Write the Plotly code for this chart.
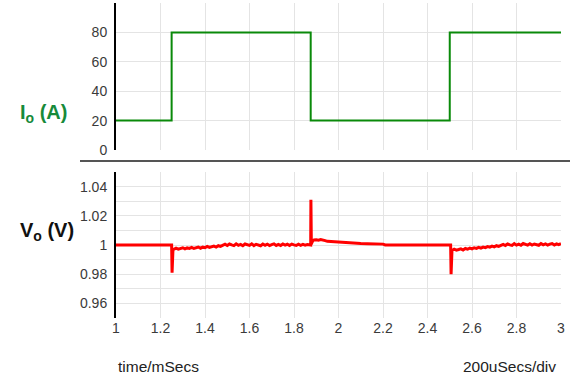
import plotly.graph_objects as go

# ---- data ----
io_t = [1.0, 1.25, 1.875, 2.5, 3.0]
io_a = [20, 80, 20, 80, 80]

vo_t = [1.0, 1.25, 1.252, 1.254, 1.256,
        1.26, 1.27, 1.28, 1.29, 1.30, 1.31, 1.32, 1.33, 1.34, 1.35,
        1.36, 1.37, 1.38, 1.39, 1.40, 1.41, 1.42, 1.43, 1.44, 1.45,
        1.46, 1.47, 1.48, 1.49, 1.50, 1.51, 1.52, 1.53, 1.54, 1.55,
        1.56, 1.57, 1.58, 1.59, 1.60, 1.61, 1.62, 1.63, 1.64, 1.65,
        1.66, 1.67, 1.68, 1.69, 1.70, 1.71, 1.72, 1.73, 1.74, 1.75,
        1.76, 1.77, 1.78, 1.79, 1.80, 1.81, 1.82, 1.83, 1.84, 1.85,
        1.86, 1.87,
        1.875, 1.876, 1.878, 1.880, 1.885, 1.89, 1.90, 1.91, 1.92, 1.93,
        1.94, 1.95, 1.96, 1.98, 2.00, 2.02, 2.05, 2.08, 2.10, 2.13,
        2.16, 2.19, 2.20, 2.21,
        2.50, 2.504, 2.506, 2.508,
        2.51, 2.52, 2.53, 2.54, 2.55, 2.56, 2.57, 2.58, 2.59, 2.60,
        2.61, 2.62, 2.63, 2.64, 2.65, 2.66, 2.67, 2.68, 2.69, 2.70,
        2.71, 2.72, 2.73, 2.74, 2.75, 2.76, 2.77, 2.78, 2.79, 2.80,
        2.81, 2.82, 2.83, 2.84, 2.85, 2.86, 2.87, 2.88, 2.89, 2.90,
        2.91, 2.92, 2.93, 2.94, 2.95, 2.96, 2.97, 2.98, 2.99, 3.0]

vo_v = [1.0, 1.0, 0.9810, 0.9960, 0.9968,
        0.9970, 0.9979, 0.9972, 0.9976, 0.9981, 0.9973, 0.9980, 0.9977, 0.9984, 0.9976,
        0.9983, 0.9986, 0.9978, 0.9985, 0.9982, 0.9990, 0.9983, 0.9988, 0.9992, 0.9986,
        0.9995, 0.9990, 0.9998, 1.0005, 0.9996, 1.0007, 1.0001, 0.9996, 1.0008, 0.9998,
        1.0004, 0.9995, 1.0007, 1.0002, 0.9997, 1.0008, 0.9996, 1.0005, 1.0000, 0.9995,
        1.0007, 0.9998, 1.0006, 0.9996, 1.0003, 1.0008, 0.9997, 1.0004, 0.9996, 1.0007,
        0.9999, 1.0005, 0.9996, 1.0006, 1.0001, 0.9997, 1.0006, 0.9998, 1.0004, 0.9999,
        1.0003, 1.0000,
        1.0, 1.0310, 1.0005, 1.0015, 1.0030, 1.0034, 1.0036, 1.0033, 1.0037, 1.0031,
        1.0030, 1.0025, 1.0024, 1.0020, 1.0018, 1.0014, 1.0013, 1.0011, 1.0010, 1.0009,
        1.0008, 1.0007, 1.0006, 1.0,
        1.0, 1.0, 0.9800, 0.9955,
        0.9962, 0.9971, 0.9965, 0.9969, 0.9974, 0.9966, 0.9976, 0.9971, 0.9979, 0.9973,
        0.9981, 0.9977, 0.9984, 0.9979, 0.9986, 0.9982, 0.9989, 0.9985, 0.9992, 0.9987,
        0.9995, 0.9990, 0.9998, 1.0004, 0.9996, 1.0007, 1.0001, 0.9997, 1.0009, 0.9999,
        1.0006, 0.9998, 1.0010, 1.0003, 0.9999, 1.0009, 1.0000, 1.0007, 1.0002, 0.9998,
        1.0010, 1.0001, 1.0008, 0.9999, 1.0006, 1.0010, 1.0000, 1.0008, 1.0002, 1.0009]

x_tickvals = [1, 1.2, 1.4, 1.6, 1.8, 2, 2.2, 2.4, 2.6, 2.8, 3]
io_tickvals = [0, 20, 40, 60, 80]
vo_tickvals = [0.96, 0.98, 1.0, 1.02, 1.04]
vo_ticktext = ["0.96", "0.98", "1", "1.02", "1.04"]

# ---- figure ----
W, H = 570, 377
L, R, T, B = 116, 9, 3, 59
ph = H - T - B

def py(pix):
    return (H - B - pix) / ph

def px(pix):
    return (pix - L) / (W - L - R)

grid = "#e4e4e4"
tickfont = dict(family="Liberation Sans, Arial, sans-serif", size=14, color="#3a3a3a")

fig = go.Figure()
fig.add_trace(go.Scatter(x=io_t, y=io_a, mode="lines", line=dict(shape="hv", color="#0a8a0a", width=2),
                         xaxis="x", yaxis="y", showlegend=False, hoverinfo="skip"))
fig.add_trace(go.Scatter(x=vo_t, y=vo_v, mode="lines", line=dict(color="#ff0000", width=3),
                         xaxis="x2", yaxis="y2", showlegend=False, hoverinfo="skip"))

fig.update_layout(
    width=W, height=H,
    margin=dict(l=L, r=R, t=T, b=B),
    paper_bgcolor="white", plot_bgcolor="white",
    font=dict(family="Liberation Sans, Arial, sans-serif"),
    xaxis=dict(domain=[0, 1], range=[1, 3], tickvals=x_tickvals, showticklabels=False,
               showgrid=True, gridcolor=grid, zeroline=False, showline=False, anchor="y"),
    yaxis=dict(domain=[py(150), 1], range=[0, 100], tickvals=io_tickvals, showgrid=True,
               gridcolor=grid, zeroline=False, showline=True, linecolor="black", linewidth=2,
               ticks="outside", ticklen=4, tickcolor="rgba(0,0,0,0)", tickfont=tickfont, anchor="x"),
    xaxis2=dict(domain=[0, 1], range=[1, 3], tickvals=x_tickvals, showgrid=True, gridcolor=grid,
                zeroline=False, showline=False, tickfont=tickfont, anchor="y2"),
    yaxis2=dict(domain=[0, py(172)], range=[0.95, 1.05], tickvals=vo_tickvals, ticktext=vo_ticktext,
                showgrid=True, gridcolor=grid, zeroline=False, showline=True, linecolor="black",
                linewidth=2, ticks="outside", ticklen=4, tickcolor="rgba(0,0,0,0)", tickfont=tickfont,
                minor=dict(dtick=0.01, showgrid=True, gridcolor=grid), anchor="x2"),
)

fig.add_shape(type="line", xref="paper", yref="paper", x0=px(80), x1=px(570), y0=py(161), y1=py(161),
              line=dict(color="#555", width=2))

fig.add_annotation(text="<b>I<sub>o</sub> (A)</b>", xref="paper", yref="paper", x=px(18), y=py(113),
                   xanchor="left", yanchor="middle", showarrow=False,
                   font=dict(size=20, color="#178a3a"))
fig.add_annotation(text="<b>V<sub>o</sub> (V)</b>", xref="paper", yref="paper", x=px(18), y=py(231),
                   xanchor="left", yanchor="middle", showarrow=False,
                   font=dict(size=20, color="#111"))
fig.add_annotation(text="time/mSecs", xref="paper", yref="paper", x=0, y=py(367),
                   xanchor="left", yanchor="middle", showarrow=False,
                   font=dict(size=15.5, color="#222"))
fig.add_annotation(text="200uSecs/div", xref="paper", yref="paper", x=px(558), y=py(367),
                   xanchor="right", yanchor="middle", showarrow=False,
                   font=dict(size=15.5, color="#222"))

fig.write_html("out.html")
